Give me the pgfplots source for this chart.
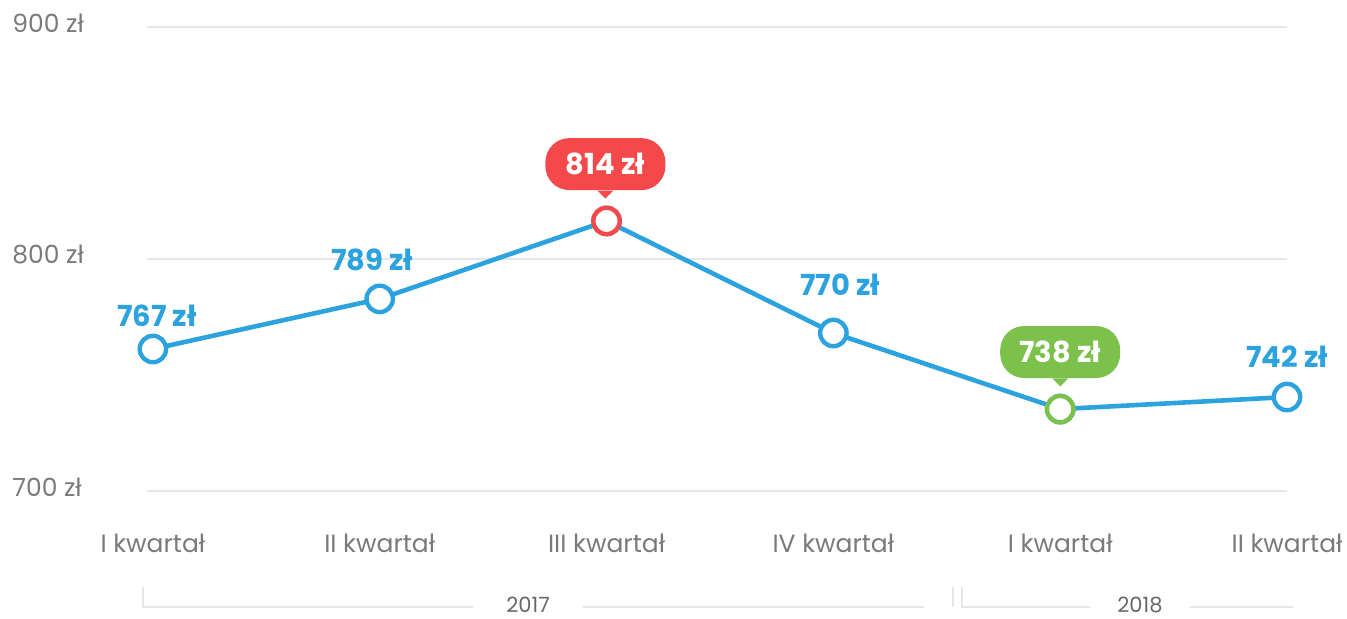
\documentclass[border=0pt]{standalone}
\usepackage{pgfplots}
\pgfplotsset{compat=1.18}
\usepackage{fontspec}
\setmainfont{Poppins}
\definecolor{lineBlue}{HTML}{2CA3DE}
\definecolor{hiRed}{HTML}{F5484A}
\definecolor{hiGreen}{HTML}{7CC14B}
\definecolor{tickGray}{HTML}{7A7A7A}
\definecolor{gridGray}{HTML}{E6E6E6}
\newcommand{\px}[2]{({#1*0.5pt},{(619-#2)*0.5pt})}

\begin{document}
\begin{tikzpicture}
\useasboundingbox (0,0) rectangle (673.5pt,309.5pt);
\begin{axis}[
    at={(73.5pt,64pt)}, anchor=south west,
    scale only axis,
    width=570pt, height=232pt,
    xmin=-0.026, xmax=5,
    ymin=700, ymax=900,
    axis line style={draw=none},
    clip=false,
    xtick={0,1,2,3,4,5},
    xticklabels={I kwartał,II kwartał,III kwartał,IV kwartał,I kwartał,II kwartał},
    ytick={700,800,900},
    yticklabels={700 zł,800 zł,900 zł},
    major tick length=0pt,
    ymajorgrids=true,
    grid style={draw=gridGray,line width=0.6pt},
    ticklabel style={font=\fontsize{12.5}{15}\selectfont,text=tickGray,inner sep=0pt},
    xticklabel style={anchor=center,yshift=-26pt},
    yticklabel style={anchor=west,xshift=-67.5pt,yshift=2pt},
    /pgf/number format/assume math mode=true,
]
\addplot[lineBlue,line width=2.3pt,mark=*,mark size=6.6pt,
    mark options={fill=white,draw=lineBlue,line width=2.2pt}] coordinates {
    (0,761.2) (1,782.8) (2,816.4) (3,768.1) (4,735.3) (5,740.5)
};
\addplot[only marks,mark=*,mark size=6.6pt,
    mark options={fill=white,draw=hiRed,line width=2.2pt}] coordinates {(2,816.4)};
\addplot[only marks,mark=*,mark size=6.6pt,
    mark options={fill=white,draw=hiGreen,line width=2.2pt}] coordinates {(4,735.3)};

\begin{scope}[every node/.style={font=\bfseries\fontsize{14.5}{16}\selectfont,text=lineBlue}]
\node at (axis cs:0.018,775.4) {767 zł};
\node at (axis cs:0.966,799.6) {789 zł};
\node at (axis cs:3.03,788.8) {770 zł};
\node at (axis cs:5,757.8) {742 zł};
\end{scope}

\node[fill=hiRed,rounded corners=12pt,minimum width=60pt,minimum height=26pt,
    text=white,font=\bfseries\fontsize{14.5}{16}\selectfont] (r) at (axis cs:1.995,840.9) {814 zł};
\fill[hiRed] ([xshift=-4pt]r.south) -- ([yshift=-4pt]r.south) -- ([xshift=4pt]r.south) -- cycle;
\node[fill=hiGreen,rounded corners=12pt,minimum width=60pt,minimum height=26pt,
    text=white,font=\bfseries\fontsize{14.5}{16}\selectfont] (g) at (axis cs:4,759.9) {738 zł};
\fill[hiGreen] ([xshift=-4pt]g.south) -- ([yshift=-4pt]g.south) -- ([xshift=4pt]g.south) -- cycle;
\end{axis}

\begin{scope}[draw=gridGray,line width=0.6pt]
\draw \px{143}{587} -- \px{143}{607} -- \px{473}{607};
\draw \px{583}{607} -- \px{924}{607};
\draw \px{953}{587} -- \px{953}{607};
\draw \px{962}{587} -- \px{962}{607} -- \px{1090}{607};
\draw \px{1190}{607} -- \px{1293}{607};
\end{scope}
\node[font=\fontsize{10.5}{12}\selectfont,text=tickGray!85!black,inner sep=0pt] at \px{528}{605} {2017};
\node[font=\fontsize{10.5}{12}\selectfont,text=tickGray!85!black,inner sep=0pt] at \px{1140}{605} {2018};
\end{tikzpicture}
\end{document}
